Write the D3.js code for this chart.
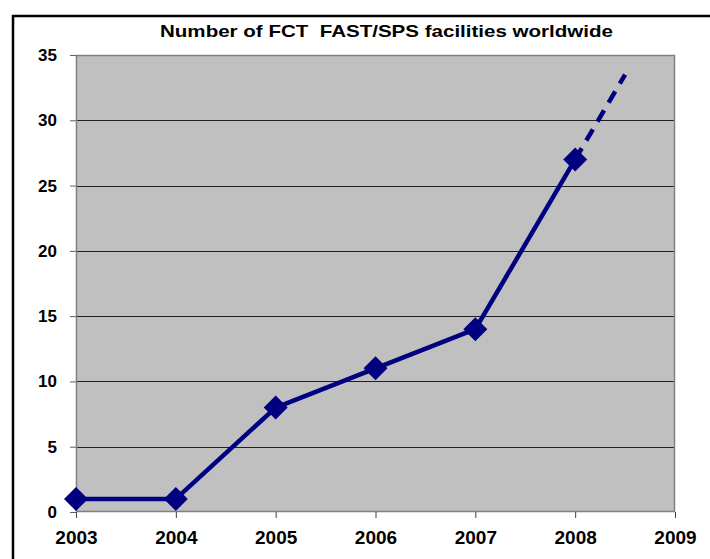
<!DOCTYPE html>
<html>
<head>
<meta charset="utf-8">
<script src="https://cdn.jsdelivr.net/npm/d3@7"></script>
<style>
  html, body { margin: 0; padding: 0; background: #ffffff; }
  svg { display: block; }
</style>
</head>
<body>
<svg id="chart" width="710" height="559"></svg>
<script>
const title = "Number of FCT  FAST/SPS facilities worldwide";
const years = ["2003", "2004", "2005", "2006", "2007", "2008", "2009"];
const facilities = [1, 1, 8, 11, 14, 27];
const projectionYears = [2008, 2008.5];
const projectionValues = [27, 33.5];
const yTicks = [0, 5, 10, 15, 20, 25, 30, 35];

const svg = d3.select("#chart");
const W = 710, H = 559;
const plot = { left: 76, right: 675, top: 55, bottom: 512 };
const FONT = "'Liberation Sans', Arial, sans-serif";

// outer frame
svg.append("path")
  .attr("d", `M13,${H + 5} L13,16 L${W + 5},16`)
  .attr("fill", "none").attr("stroke", "#000").attr("stroke-width", 2.5);

const x = d3.scaleLinear().domain([2003, 2009]).range([plot.left, plot.right]);
const y = d3.scaleLinear().domain([0, 35]).range([plot.bottom, plot.top]);

// plot background
svg.append("rect")
  .attr("x", plot.left).attr("y", plot.top)
  .attr("width", plot.right - plot.left).attr("height", plot.bottom - plot.top)
  .attr("fill", "#c0c0c0");

// gridlines
svg.append("g").selectAll("line")
  .data(yTicks.filter(v => v > 0 && v < 35))
  .join("line")
  .attr("x1", plot.left).attr("x2", plot.right)
  .attr("y1", d => Math.round(y(d)) + 0.5).attr("y2", d => Math.round(y(d)) + 0.5)
  .attr("stroke", "#202020").attr("stroke-width", 1);

// plot border
svg.append("rect")
  .attr("x", plot.left + 0.5).attr("y", plot.top + 0.5)
  .attr("width", plot.right - plot.left - 1).attr("height", plot.bottom - plot.top - 1)
  .attr("fill", "none").attr("stroke", "#808080").attr("stroke-width", 1.5);

// y axis
const yAxis = d3.axisLeft(y).tickValues(yTicks).tickSize(6).tickPadding(13).tickFormat(d3.format("d"));
const gy = svg.append("g").attr("transform", `translate(${plot.left},0)`).call(yAxis);
gy.select(".domain").remove();
gy.selectAll(".tick line").attr("stroke", "#606060");
gy.selectAll("text")
  .attr("font-family", FONT)
  .attr("font-size", 17).attr("font-weight", "bold").attr("fill", "#000");

// x axis
const xAxis = d3.axisBottom(x).tickValues(years.map(Number)).tickSize(6).tickPadding(13)
  .tickFormat((d, i) => years[i]);
const gx = svg.append("g").attr("transform", `translate(0,${plot.bottom})`).call(xAxis);
gx.select(".domain").remove();
gx.selectAll(".tick line").attr("stroke", "#404040");
gx.selectAll("text")
  .attr("font-family", FONT)
  .attr("font-size", 19).attr("font-weight", "bold").attr("fill", "#000");

// projection dashed line
svg.append("path")
  .datum(projectionYears.map((yr, i) => [yr, projectionValues[i]]))
  .attr("d", d3.line().x(d => x(d[0])).y(d => y(d[1])))
  .attr("fill", "none").attr("stroke", "#000080").attr("stroke-width", 4.5)
  .attr("stroke-dasharray", "13,9");

// main line
const pts = facilities.map((v, i) => [+years[i], v]);
svg.append("path")
  .datum(pts)
  .attr("d", d3.line().x(d => x(d[0])).y(d => y(d[1])))
  .attr("fill", "none").attr("stroke", "#000080").attr("stroke-width", 4.5)
  .attr("stroke-linejoin", "round");

// diamond markers
const r = 12;
svg.append("g").selectAll("path")
  .data(pts)
  .join("path")
  .attr("d", d => {
    const cx = x(d[0]), cy = y(d[1]);
    return `M${cx},${cy - r} L${cx + r},${cy} L${cx},${cy + r} L${cx - r},${cy} Z`;
  })
  .attr("fill", "#000080");

// title
svg.append("text")
  .attr("x", 386.5).attr("y", 37)
  .attr("text-anchor", "middle")
  .attr("font-family", FONT)
  .attr("font-size", 17).attr("font-weight", "bold")
  .attr("textLength", 453).attr("lengthAdjust", "spacingAndGlyphs")
  .style("white-space", "pre")
  .attr("xml:space", "preserve")
  .text(title);
</script>
</body>
</html>
